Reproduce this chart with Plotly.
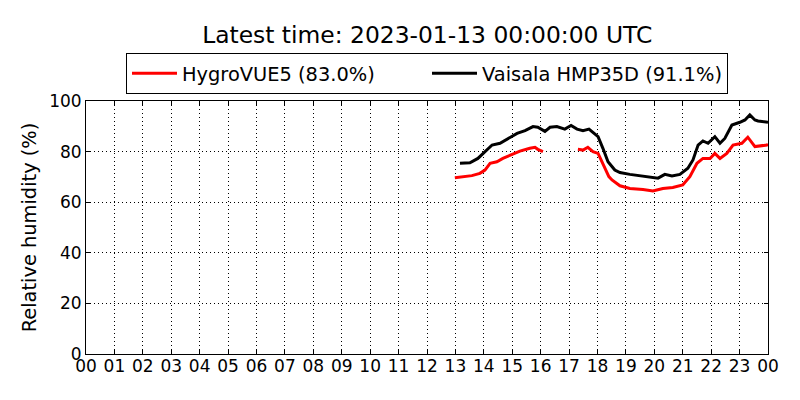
import pandas as pd
import plotly.graph_objects as go

# Hours since 2023-01-12 00:00 UTC (None = data gap)
hygro_hours = [12.98, 13.27, 13.58, 13.86, 14.04, 14.22, 14.46, 14.67, 14.99, 15.27, 15.62,
               15.80, 15.90, 16.08,
               None,
               17.31, 17.49, 17.66, 17.84, 18.02, 18.19, 18.40, 18.51, 18.79, 19.14, 19.60,
               19.95, 20.30, 20.65, 21.00, 21.25, 21.50, 21.71, 21.96, 22.13, 22.31, 22.55,
               22.77, 23.08, 23.29, 23.54, 23.96, 24.0]
hygro_vals = [69.7, 70.1, 70.5, 71.4, 72.7, 75.4, 76.0, 77.3, 78.9, 80.2, 81.3,
              81.7, 80.9, 80.0,
              None,
              80.9, 80.6, 81.7, 80.0, 79.3, 75.4, 70.1, 68.8, 66.5, 65.4, 65.0,
              64.4, 65.4, 65.8, 66.8, 70.1, 75.4, 77.3, 77.3, 79.3, 77.3, 79.3,
              82.6, 83.3, 85.7, 82.0, 82.6, 83.0]

vaisala_hours = [13.16, 13.51, 13.79, 13.97, 14.29, 14.57, 14.85, 15.17, 15.45, 15.73, 15.90,
                 16.15, 16.33, 16.57, 16.85, 17.07, 17.28, 17.49, 17.70, 18.02, 18.19, 18.37,
                 18.61, 18.79, 19.14, 19.49, 19.85, 20.13, 20.37, 20.62, 20.90, 21.18, 21.36,
                 21.54, 21.71, 21.89, 22.13, 22.31, 22.48, 22.73, 23.01, 23.19, 23.36, 23.54,
                 23.65, 23.96, 24.0]
vaisala_vals = [75.4, 75.6, 77.3, 79.3, 82.6, 83.3, 85.2, 87.2, 88.3, 89.9, 89.6,
                88.0, 89.6, 89.9, 88.9, 90.3, 88.9, 88.3, 88.9, 85.9, 81.3, 76.0,
                72.7, 71.7, 71.0, 70.5, 69.8, 69.5, 71.0, 70.4, 71.0, 73.4, 76.7,
                82.6, 84.2, 83.3, 85.9, 83.3, 85.2, 90.5, 91.6, 92.5, 94.5, 92.5,
                92.1, 91.8, 91.6]

series_names = ["HygroVUE5 (83.0%)", "Vaisala HMP35D (91.1%)"]
y_ticks = [0, 20, 40, 60, 80, 100]

base = pd.Timestamp("2023-01-12 00:00:00")


def to_times(hours):
    return [None if h is None else base + pd.to_timedelta(h, unit="h") for h in hours]


fig = go.Figure()
fig.add_trace(go.Scatter(x=to_times(hygro_hours), y=hygro_vals, mode="lines",
                         name=series_names[0], line=dict(color="#ff0000", width=3),
                         connectgaps=False))
fig.add_trace(go.Scatter(x=to_times(vaisala_hours), y=vaisala_vals, mode="lines",
                         name=series_names[1], line=dict(color="#000000", width=3)))

font_family = "DejaVu Sans"
# The page body adds an 8 px offset, so margins are shifted accordingly.
fig.update_layout(
    width=800, height=400,
    margin=dict(l=78, r=40, t=93, b=54, autoexpand=False),
    paper_bgcolor="white", plot_bgcolor="white",
    font=dict(family=font_family, color="black", size=17),
    title=dict(text="Latest time: 2023-01-13 00:00:00 UTC", x=0.524, xanchor="center",
               xref="container",
               y=0.9325, yanchor="middle", font=dict(size=23.4, family=font_family)),
    legend=dict(orientation="h", x=0.5, xanchor="center", y=1.027, yanchor="bottom",
                bordercolor="black", borderwidth=1, font=dict(size=19.4, family=font_family),
                bgcolor="white", itemwidth=45, entrywidth=240),
    showlegend=True,
)
fig.update_xaxes(
    type="date",
    range=[base, base + pd.Timedelta(hours=24)],
    dtick=3600000, tick0=base, tickformat="%H",
    showgrid=True, gridcolor="black", griddash="1px,3px", gridwidth=1,
    showline=True, linecolor="black", linewidth=1, mirror="ticks",
    ticks="inside", ticklen=4, tickcolor="black",
    tickfont=dict(size=17), zeroline=False, automargin=False,
    ticklabelstandoff=-3,
)
fig.update_yaxes(
    range=[0, 100], tickvals=y_ticks,
    showgrid=True, gridcolor="black", griddash="1px,3px", gridwidth=1,
    showline=True, linecolor="black", linewidth=1, mirror="ticks",
    ticks="inside", ticklen=4, tickcolor="black",
    tickfont=dict(size=17), zeroline=False, automargin=False,
    title=dict(text="Relative humidity (%)", font=dict(size=19.4), standoff=7),
)

fig.write_html("out.html")
